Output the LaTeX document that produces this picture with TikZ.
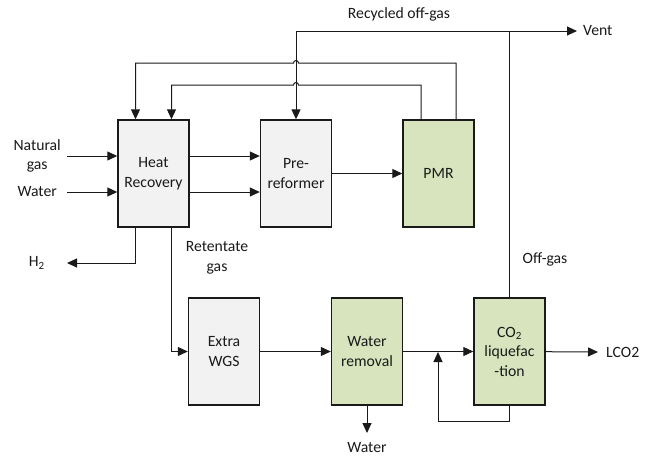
\documentclass[tikz,border=0pt]{standalone}
\usepackage{fontspec}
\setmainfont{Carlito}
\usetikzlibrary{arrows.meta,positioning,calc}
\definecolor{boxgray}{HTML}{F2F2F2}
\definecolor{boxgreen}{HTML}{D7E4BD}
\definecolor{linedark}{HTML}{1A1A1A}
\tikzset{
  unit/.style={draw=linedark, fill=boxgray, line width=1.4pt,
    minimum width=71pt, minimum height=107pt, inner sep=1pt, align=center,
    font=\fontsize{15.7}{19.5}\selectfont, text=linedark},
  greenunit/.style={unit, fill=boxgreen},
  flow/.style={-{Triangle[length=10pt,width=9pt]}, line width=1pt, color=linedark},
  note/.style={font=\fontsize{15.7}{19.5}\selectfont, text=linedark,
    align=center, inner sep=0pt},
}
\begin{document}
\begin{tikzpicture}[x=1pt,y=-1pt]
  \useasboundingbox (0,0) rectangle (647,456);
  % process units
  \node[unit] (heat) at (153.5,173.5) {Heat\\Recovery};
  \node[unit] (pre) at (296,173.5) {Pre-\\reformer};
  \node[greenunit] (pmr) at (438.5,173.5) {PMR};
  \node[unit] (wgs) at (224,351.5) {Extra\\WGS};
  \node[greenunit] (dry) at (367,351.5) {Water\\removal};
  \node[greenunit] (liq) at (509.5,351.5) {CO\textsubscript{2}\\liquefac\\-tion};
  % free ends of the streams
  \coordinate (ngin) at (67,156);
  \coordinate (win) at (67,192);
  \coordinate (htwoend) at (67,263);
  \coordinate (ventend) at (577,31);
  \coordinate (lcoend) at (598,352);
  \coordinate (woutend) at (367,433);
  \coordinate (mix) at (438,352);
  % stream labels
  \node[note, left=6pt of ngin] (ngas) {Natural\\gas};
  \node[note, left=10pt of win] (water) {Water};
  \node[note, left=22pt of htwoend] (htwo) {H\textsubscript{2}};
  \node[note, right=6pt of ventend] (vent) {Vent};
  \node[note, right=8pt of lcoend] (lco) {LCO2};
  \node[note, below=9pt of woutend] (wout) {Water};
  \node[note] (rec) at (399,14) {Recycled off-gas};
  \node[note] (ret) at (217,258) {Retentate\\gas};
  \node[note] (offgas) at (545,259) {Off-gas};
  % feeds and main line
  \draw[flow] (ngin) -- (ngin -| heat.west);
  \draw[flow] (win) -- (win -| heat.west);
  \draw[flow] (ngin -| heat.east) -- (ngin -| pre.west);
  \draw[flow] (win -| heat.east) -- (win -| pre.west);
  \draw[flow] (pre) -- (pmr);
  \draw[flow] ([xshift=-18pt]heat.south) |- (htwoend);
  \draw[flow] ([xshift=18pt]heat.south) |- (wgs.west);
  \draw[flow] (wgs) -- (dry);
  \draw[flow] (dry) -- (liq);
  \draw[flow] (dry.south) -- (woutend);
  \draw[flow] (liq) -- (lcoend);
  \draw[flow] (liq.south) |- (mix |- 0,421) -- (mix);
  % off-gas to vent and pre-reformer
  \draw[flow] (liq.north) -- (liq.north |- ventend) -| (pre.north);
  \draw[flow] (liq.north |- ventend) -- (ventend);
  % recycle from PMR, hopping over the off-gas line
  \draw[flow] ([xshift=17.5pt]pmr.north) |- (298.5,63)
    arc[start angle=0, end angle=180, radius=2.5pt] -| ([xshift=-18pt]heat.north);
  \draw[flow] ([xshift=-17.5pt]pmr.north) |- (298.5,85)
    arc[start angle=0, end angle=180, radius=2.5pt] -| ([xshift=18pt]heat.north);
\end{tikzpicture}
\end{document}
